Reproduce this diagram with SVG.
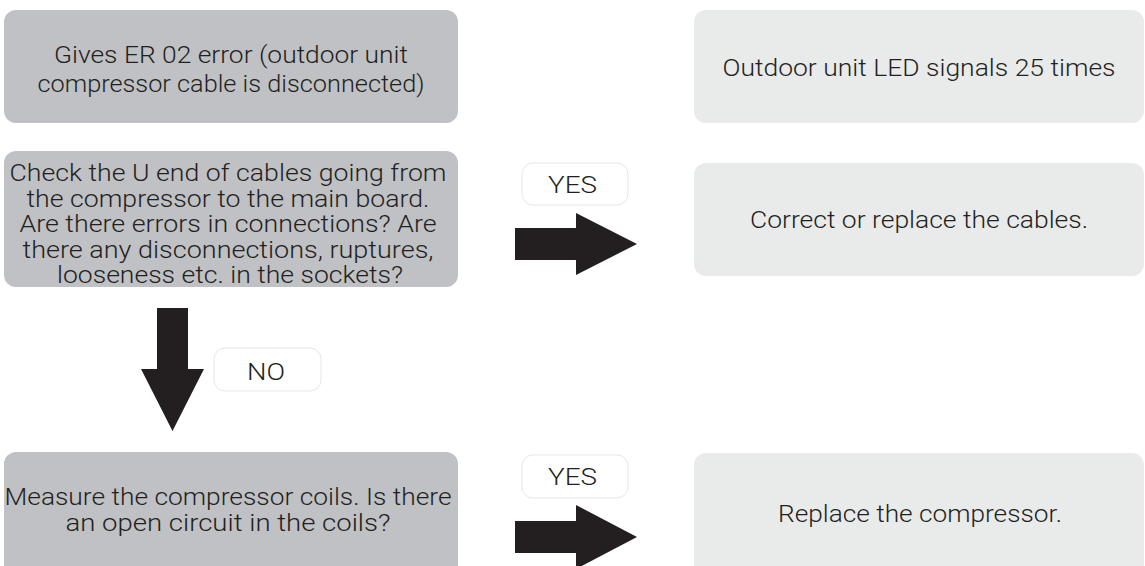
<svg xmlns="http://www.w3.org/2000/svg" width="1145" height="566" viewBox="0 0 1145 566">
<style>
.dark{fill:#bfc1c4}
.light{fill:#e9eaea}
.t{font-family:Roboto,"Liberation Sans",Arial,sans-serif;font-weight:300;font-size:24px;fill:#231f20;text-anchor:middle}
.lbl{fill:#ffffff;stroke:#e6e6e6;stroke-width:1}
.lt{font-family:Roboto,"Liberation Sans",Arial,sans-serif;font-weight:300;font-size:24px;fill:#231f20;text-anchor:middle}
.arr{fill:#231f20}
</style>
<rect width="1145" height="566" fill="#ffffff"/>
<g id="n1">
<rect class="dark" x="4" y="10" width="454" height="113" rx="12"/>
<text class="t" x="231" y="63" textLength="354" lengthAdjust="spacingAndGlyphs">Gives ER 02 error (outdoor unit</text>
<text class="t" x="231" y="92" textLength="387" lengthAdjust="spacingAndGlyphs">compressor cable is disconnected)</text>
</g>
<g id="n2">
<rect class="light" x="694" y="10" width="450" height="113" rx="12"/>
<text class="t" x="919" y="76" textLength="393" lengthAdjust="spacingAndGlyphs">Outdoor unit LED signals 25 times</text>
</g>
<g id="n3">
<rect class="dark" x="4" y="151" width="454" height="136" rx="12"/>
<text class="t" x="228" y="181" textLength="437" lengthAdjust="spacingAndGlyphs">Check the U end of cables going from</text>
<text class="t" x="228" y="206.5" textLength="403" lengthAdjust="spacingAndGlyphs">the compressor to the main board.</text>
<text class="t" x="228" y="232" textLength="417" lengthAdjust="spacingAndGlyphs">Are there errors in connections? Are</text>
<text class="t" x="228" y="257.5" textLength="411" lengthAdjust="spacingAndGlyphs">there any disconnections, ruptures,</text>
<text class="t" x="230" y="283" textLength="346" lengthAdjust="spacingAndGlyphs">looseness etc. in the sockets?</text>
</g>
<g id="n4">
<rect class="light" x="694" y="163" width="450" height="113" rx="12"/>
<text class="t" x="919" y="228" textLength="338" lengthAdjust="spacingAndGlyphs">Correct or replace the cables.</text>
</g>
<g id="n5">
<rect class="dark" x="4" y="452" width="454" height="125" rx="12"/>
<text class="t" x="228" y="505" textLength="447" lengthAdjust="spacingAndGlyphs">Measure the compressor coils. Is there</text>
<text class="t" x="228" y="531" textLength="325" lengthAdjust="spacingAndGlyphs">an open circuit in the coils?</text>
</g>
<g id="n6">
<rect class="light" x="694" y="453" width="450" height="125" rx="12"/>
<text class="t" x="920" y="522" textLength="284" lengthAdjust="spacingAndGlyphs">Replace the compressor.</text>
</g>
<g id="connectors">
<rect class="lbl" x="522" y="163" width="106" height="42" rx="11"/>
<text class="lt" x="572.5" y="193" textLength="49" lengthAdjust="spacingAndGlyphs">YES</text>
<polygon class="arr" points="515,228 576,228 576,213 637,244 576,275 576,260 515,260"/>
<polygon class="arr" points="157,308 188,308 188,369 204,369 172.5,431 141,369 157,369"/>
<rect class="lbl" x="214" y="348" width="107" height="43" rx="11"/>
<text class="lt" x="266" y="380" textLength="38" lengthAdjust="spacingAndGlyphs">NO</text>
<rect class="lbl" x="522" y="455" width="106" height="43" rx="11"/>
<text class="lt" x="572.5" y="485" textLength="49" lengthAdjust="spacingAndGlyphs">YES</text>
<polygon class="arr" points="515,521 576,521 576,505 637,537 576,569 576,553 515,553"/>
</g>
</svg>
